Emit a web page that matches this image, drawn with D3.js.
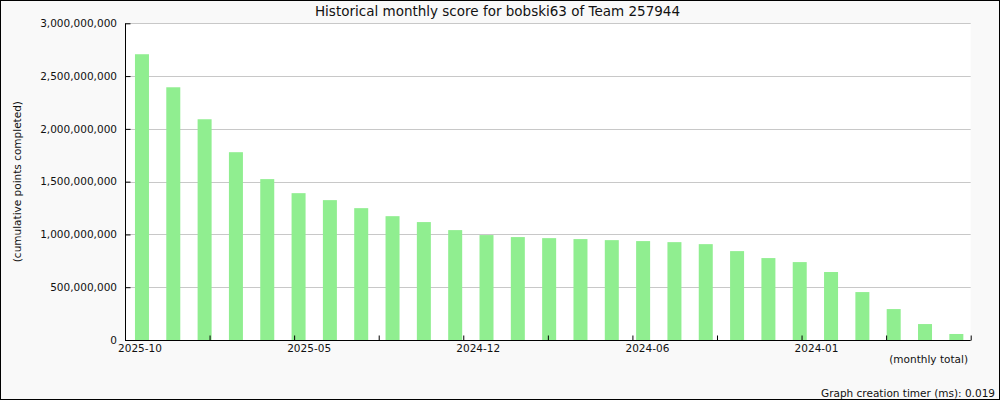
<!DOCTYPE html>
<html>
<head>
<meta charset="utf-8">
<script src="https://cdn.jsdelivr.net/npm/d3@7"></script>
<style>
  html, body { margin: 0; padding: 0; background: #fff; }
  svg { display: block; font-family: "DejaVu Sans", sans-serif; }
</style>
</head>
<body>
<svg id="chart" width="1000" height="400"></svg>
<script>
const months = ["2025-10","2025-09","2025-08","2025-07","2025-06","2025-05","2025-04","2025-03","2025-02","2025-01",
  "2024-12","2024-11","2024-10","2024-09","2024-08","2024-07","2024-06","2024-05","2024-04","2024-03",
  "2024-02","2024-01","2023-12","2023-11","2023-10","2023-09","2023-08"];
const scores = [2707e6, 2394e6, 2091e6, 1779e6, 1524e6, 1391e6, 1325e6, 1249e6, 1173e6, 1117e6,
  1041e6, 994e6, 975e6, 965e6, 956e6, 946e6, 937e6, 927e6, 908e6, 842e6,
  776e6, 738e6, 644e6, 454e6, 293e6, 151e6, 57e6];
const yTicks = [0, 500e6, 1000e6, 1500e6, 2000e6, 2500e6, 3000e6];
const xTickLabels = ["2025-10", "2025-05", "2024-12", "2024-06", "2024-01"];
const title = "Historical monthly score for bobski63 of Team 257944";

const svg = d3.select("#chart");
const W = 1000, H = 400;
const L = 125, R = 970.7, T = 23.3, B = 340;

svg.append("rect").attr("x", 0.5).attr("y", 0.5).attr("width", W - 1).attr("height", H - 1)
  .attr("fill", "#f9f9f9").attr("stroke", "#000").attr("stroke-width", 1);
svg.append("rect").attr("x", L).attr("y", T).attr("width", R - L).attr("height", B - T).attr("fill", "#fff");

const y = d3.scaleLinear().domain([0, 3e9]).range([B, T]);
const x = d3.scaleBand().domain(months).range([L, R]).paddingInner(0).paddingOuter(0);
const xt = d3.scaleLinear().domain([0, 10]).range([L, R]);

// gridlines
svg.append("g").selectAll("line").data(yTicks.filter(d => d > 0)).join("line")
  .attr("x1", L).attr("x2", R).attr("y1", d => Math.round(y(d)) + 0.5).attr("y2", d => Math.round(y(d)) + 0.5)
  .attr("stroke", "#c8c8c8").attr("stroke-width", 1);

// bars
const bw = 14;
svg.append("g").selectAll("rect").data(months).join("rect")
  .attr("x", (d) => x(d) + (x.bandwidth() - bw) / 2 + 1.3)
  .attr("width", bw)
  .attr("y", (d, i) => y(scores[i]))
  .attr("height", (d, i) => B - y(scores[i]))
  .attr("fill", "#90ee90");

// y axis
const yAxis = d3.axisRight(y).tickValues(yTicks).tickSize(5).tickFormat("");
const gy = svg.append("g").attr("transform", `translate(${L + 0.5},0)`).call(yAxis);
gy.select(".domain").attr("stroke", "#000").attr("d", `M0,${T}V${B}`);
gy.selectAll(".tick line").attr("stroke", "#000");
svg.append("g").selectAll("text").data(yTicks).join("text")
  .attr("x", 117).attr("y", d => y(d)).attr("dy", "0.35em")
  .attr("text-anchor", "end").attr("font-size", "10.5px").attr("fill", "#111")
  .text(d => d3.format(",")(d));

// x axis
const xAxis = d3.axisTop(xt).ticks(10).tickSize(5).tickFormat("");
const gx = svg.append("g").attr("transform", `translate(0,${B + 0.5})`).call(xAxis);
gx.select(".domain").attr("stroke", "#000").attr("d", `M${L},0H${R}`);
gx.selectAll(".tick line").attr("stroke", "#000");
svg.append("g").selectAll("text").data(xTickLabels).join("text")
  .attr("x", (d, i) => xt(i * 2) + 15).attr("y", 352)
  .attr("text-anchor", "middle").attr("font-size", "10.5px").attr("fill", "#111")
  .text(d => d);

// titles
svg.append("text").attr("x", 497.5).attr("y", 15.5).attr("text-anchor", "middle")
  .attr("font-size", "13.5px").attr("fill", "#111").text(title);
svg.append("text").attr("transform", `translate(21,${(T + B) / 2}) rotate(-90)`)
  .attr("text-anchor", "middle").attr("font-size", "10.5px").attr("fill", "#111")
  .text("(cumulative points completed)");
svg.append("text").attr("x", 968).attr("y", 363).attr("text-anchor", "end")
  .attr("font-size", "10.5px").attr("fill", "#111").text("(monthly total)");
svg.append("text").attr("x", 995).attr("y", 397).attr("text-anchor", "end")
  .attr("font-size", "10.5px").attr("fill", "#111").text("Graph creation timer (ms): 0.019");
</script>
</body>
</html>
